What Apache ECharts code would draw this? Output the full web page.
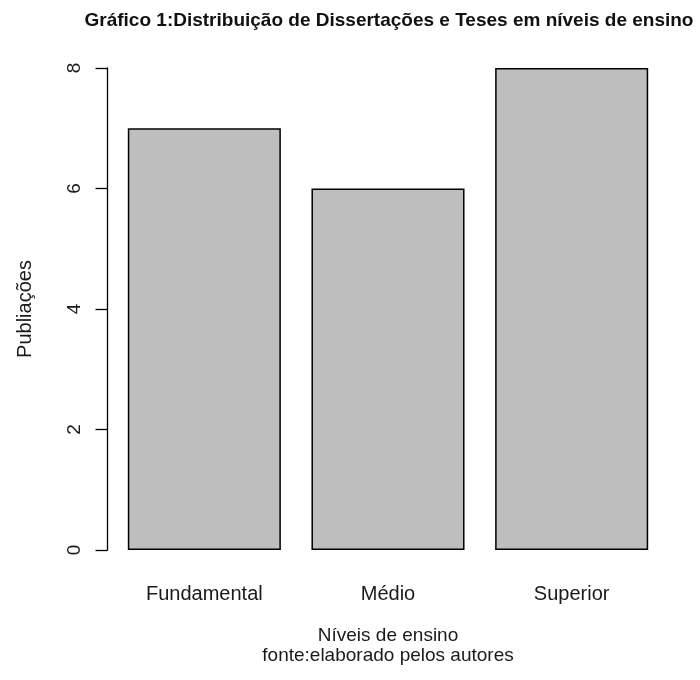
<!DOCTYPE html>
<html>
<head>
<meta charset="utf-8">
<script src="https://cdn.jsdelivr.net/npm/echarts@6/dist/echarts.min.js"></script>
<style>html,body{margin:0;padding:0;background:#fff}#c{width:700px;height:680px}</style>
</head>
<body>
<div id="c"></div>
<script>
const categories = ['Fundamental', 'Médio', 'Superior'];
const publicacoes = [7, 6, 8];
const yTicks = [0, 2, 4, 6, 8];

const chart = echarts.init(document.getElementById('c'), null, {renderer: 'canvas'});
const font = 'Liberation Sans, Arial, sans-serif';
chart.setOption({
  animation: false,
  backgroundColor: '#ffffff',
  title: {
    text: 'Gráfico 1:Distribuição de Dissertações e Teses em níveis de ensino',
    left: 384, top: 6, textAlign: 'center',
    textStyle: {fontFamily: font, fontSize: 19, fontWeight: 'bold', color: '#111'}
  },
  grid: {left: 112.5, right: 36.5, top: 68, bottom: 130, containLabel: false},
  xAxis: {
    type: 'category',
    data: categories,
    axisLine: {show: false},
    axisTick: {show: false},
    axisLabel: {margin: 34, fontFamily: font, fontSize: 20, lineHeight: 20, color: '#1a1a1a'},
    name: 'Níveis de ensino\nfonte:elaborado pelos autores',
    nameLocation: 'middle',
    nameGap: 76,
    nameTextStyle: {fontFamily: font, fontSize: 19, color: '#1a1a1a', lineHeight: 20}
  },
  yAxis: {
    type: 'value',
    min: yTicks[0], max: yTicks[yTicks.length - 1], interval: 2,
    offset: 5,
    splitLine: {show: false},
    axisLine: {show: true, lineStyle: {color: '#000', width: 1.3}},
    axisTick: {show: true, length: 12, lineStyle: {color: '#000', width: 1.3}},
    axisLabel: {rotate: 90, margin: 23, fontFamily: font, fontSize: 19, color: '#1a1a1a'},
    name: 'Publiações',
    nameLocation: 'middle',
    nameGap: 72,
    nameRotate: 90,
    nameTextStyle: {fontFamily: font, fontSize: 20, color: '#1a1a1a'}
  },
  series: [{
    type: 'bar',
    data: publicacoes,
    barCategoryGap: '16.67%',
    itemStyle: {color: '#bebebe', borderColor: '#000', borderWidth: 1.5}
  }]
});
</script>
</body>
</html>
